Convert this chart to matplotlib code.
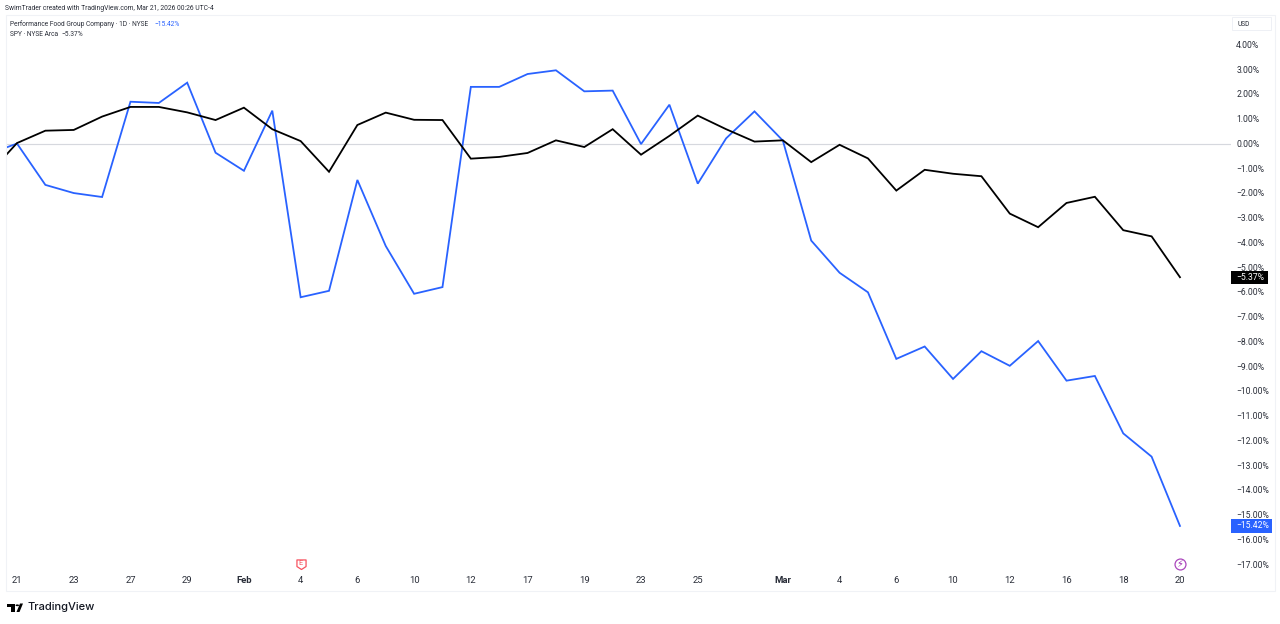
import numpy as np
import matplotlib
matplotlib.use("Agg")
import matplotlib.pyplot as plt
from matplotlib.patches import Rectangle, FancyBboxPatch, Polygon, Circle
from matplotlib.path import Path
from matplotlib.transforms import blended_transform_factory

plt.rcParams['font.family'] = ['Roboto', 'DejaVu Sans']

sessions = ['Jan 20', 'Jan 21', 'Jan 22', 'Jan 23', 'Jan 26', 'Jan 27', 'Jan 28', 'Jan 29', 'Jan 30',
            'Feb 2', 'Feb 3', 'Feb 4', 'Feb 5', 'Feb 6', 'Feb 9', 'Feb 10', 'Feb 11', 'Feb 12', 'Feb 13',
            'Feb 17', 'Feb 18', 'Feb 19', 'Feb 20', 'Feb 23', 'Feb 24', 'Feb 25', 'Feb 26', 'Feb 27',
            'Mar 2', 'Mar 3', 'Mar 4', 'Mar 5', 'Mar 6', 'Mar 9', 'Mar 10', 'Mar 11', 'Mar 12', 'Mar 13',
            'Mar 16', 'Mar 17', 'Mar 18', 'Mar 19', 'Mar 20']
pfgc = [-0.39, 0.03, -1.64, -1.97, -2.13, 1.72, 1.67, 2.49, -0.34, -1.07, 1.36, -6.18, -5.92, -1.44,
        -4.11, -6.04, -5.77, 2.32, 2.32, 2.84, 2.99, 2.14, 2.17, 0.01, 1.60, -1.59, 0.24, 1.33, 0.15,
        -3.89, -5.19, -5.98, -8.67, -8.17, -9.48, -8.36, -8.95, -7.95, -9.55, -9.36, -11.68, -12.62, -15.42]
spy = [-1.20, 0.05, 0.55, 0.58, 1.12, 1.51, 1.51, 1.29, 0.98, 1.48, 0.61, 0.13, -1.11, 0.78, 1.28,
       0.99, 0.98, -0.58, -0.51, -0.35, 0.16, -0.11, 0.61, -0.42, 0.34, 1.16, 0.61, 0.11, 0.16, -0.72,
       -0.02, -0.57, -1.87, -1.03, -1.19, -1.29, -2.80, -3.35, -2.37, -2.12, -3.47, -3.72, -5.37]
time_ticks = ['Jan 21', 'Jan 23', 'Jan 27', 'Jan 29', 'Feb 2', 'Feb 4', 'Feb 6', 'Feb 10', 'Feb 12',
              'Feb 17', 'Feb 19', 'Feb 23', 'Feb 25', 'Mar 2', 'Mar 4', 'Mar 6', 'Mar 10', 'Mar 12',
              'Mar 16', 'Mar 18', 'Mar 20']
time_labels = ['21', '23', '27', '29', 'Feb', '4', '6', '10', '12', '17', '19', '23', '25', 'Mar',
               '4', '6', '10', '12', '16', '18', '20']
pct_ticks = [4, 3, 2, 1, 0, -1, -2, -3, -4, -5, -6, -7, -8, -9, -10, -11, -12, -13, -14, -15, -16, -17]
earnings_session = 'Feb 4'
dividend_session = 'Mar 20'

BLUE = '#2962ff'
TEXT = '#2a2e39'
W, H = 1280, 624


def fx(px):
    return px / W


def fy(px):
    return 1 - px / H


fig = plt.figure(figsize=(12.8, 6.24), dpi=100, facecolor='white')
L, R, T, B = 6, 1231, 15, 572
ax = fig.add_axes([fx(L), fy(B), fx(R - L), (B - T) / H])
ax.set_facecolor('none')
for s in ax.spines.values():
    s.set_visible(False)

x = np.arange(len(sessions))
pos = {d: i for i, d in enumerate(sessions)}
ax.set_xlim(pos['Jan 21'] + (L - 17) / 28.365, pos['Jan 21'] + (R - 17) / 28.365)
ax.set_ylim((144.3 - B) / 24.75, (144.3 - T) / 24.75)

ax.axhline(0, color='#d6d8de', lw=0.85, zorder=1)
ax.plot(x, pfgc, color=BLUE, lw=1.3, zorder=2, solid_joinstyle='miter')
ax.plot(x, spy, color='#000000', lw=1.3, zorder=3, solid_joinstyle='miter')

# time axis
ax.set_xticks([pos[d] for d in time_ticks])
ax.set_xticklabels(time_labels)
ax.tick_params(axis='x', length=0, pad=3.2, labelsize=6.8, labelcolor=TEXT)
for t, lab in zip(ax.get_xticklabels(), time_labels):
    if lab in ('Feb', 'Mar'):
        t.set_fontweight('bold')

# price axis
ax.yaxis.tick_right()
ax.set_yticks(pct_ticks)
ax.set_yticklabels([f"{'−' if v < 0 else ''}{abs(v):.2f}%" for v in pct_ticks])
ax.tick_params(axis='y', length=0, pad=3.8, labelsize=6.2, labelcolor=TEXT)
for t in ax.get_yticklabels():
    t.set_ha('left')
    t.set_va('center')

# last-value tags
tr = blended_transform_factory(fig.transFigure, ax.transData)
for series, col, wpx in ((pfgc, BLUE, 40.5), (spy, '#000000', 36.5)):
    v = series[-1]
    ax.add_patch(Rectangle((fx(1231), v - 0.265), wpx / W, 0.53, transform=tr, color=col,
                           clip_on=False, zorder=6, lw=0))
    ax.text(fx(1236.5), v, f"−{abs(v):.2f}%", transform=tr, color='white', fontsize=6.2,
            ha='left', va='center', zorder=7, clip_on=False)

# event markers
ymark = (144.3 - 564) / 24.75
shield = Path([(-1, 1), (1, 1), (1, -0.45), (0, -1.1), (-1, -0.45), (-1, 1)], closed=True)
ax.scatter([pos[earnings_session]], [ymark], marker=shield, s=52, facecolor='white',
           edgecolor='#f7525f', linewidth=0.9, zorder=5, clip_on=False)
ax.text(pos[earnings_session], ymark + 0.03, 'E', color='#f7525f', fontsize=5.2, ha='center',
        va='center', zorder=6)
ax.scatter([pos[dividend_session]], [ymark], marker='o', s=62, facecolor='white',
           edgecolor='#ab47bc', linewidth=0.9, zorder=5, clip_on=False)
ax.text(pos[dividend_session], ymark, '⚡', color='#9c27b0', fontsize=7, ha='center', va='center',
        zorder=6, family='DejaVu Sans')

# pane frame
fig.add_artist(Rectangle((fx(5.5), fy(590.5)), 1269.5 / W, 576 / H, transform=fig.transFigure,
                         fill=False, edgecolor='#f0f2f6', lw=0.8))
fig.add_artist(FancyBboxPatch((fx(1232.5), fy(30.5)), 39 / W, 13 / H, transform=fig.transFigure,
                              boxstyle='round,pad=0', fill=False, edgecolor='#eef0f5', lw=0.7))

# header & legend
fig.text(fx(5), fy(8), 'SwimTrader created with TradingView.com, Mar 21, 2026 00:26 UTC-4',
         fontsize=4.83, color=TEXT, va='center', ha='left')
fig.text(fx(10), fy(24), 'Performance Food Group Company · 1D · NYSE', fontsize=4.82, color=TEXT,
         va='center', ha='left')
fig.text(fx(154.5), fy(24), f"−{abs(pfgc[-1]):.2f}%", fontsize=4.82, color=BLUE, va='center', ha='left')
fig.text(fx(10), fy(34), 'SPY · NYSE Arca', fontsize=4.82, color=TEXT, va='center', ha='left')
fig.text(fx(61.5), fy(34), f"−{abs(spy[-1]):.2f}%", fontsize=4.82, color=TEXT, va='center', ha='left')
fig.text(fx(1237), fy(25), 'USD', fontsize=4.8, color=TEXT, va='center', ha='left')

# TradingView logo
for pts in ([(7, 603.5), (15, 603.5), (15, 612), (11, 612), (11, 607), (7, 607)],
            [(16.5, 612), (20, 603.5), (23, 603.5), (19.5, 612)]):
    fig.add_artist(Polygon([(fx(a), fy(b)) for a, b in pts], closed=True, transform=fig.transFigure,
                           facecolor='black', edgecolor='none'))
fig.add_artist(Circle((fx(17.3), fy(605.3)), 1.8 / W, transform=fig.transFigure, facecolor='black',
                      edgecolor='none'))
fig.text(fx(27), fy(607), 'TradingView', fontsize=8.0, color='#131722', family='Inter',
         fontweight='medium', va='center', ha='left')

fig.savefig('out.png', dpi=100, facecolor='white')
